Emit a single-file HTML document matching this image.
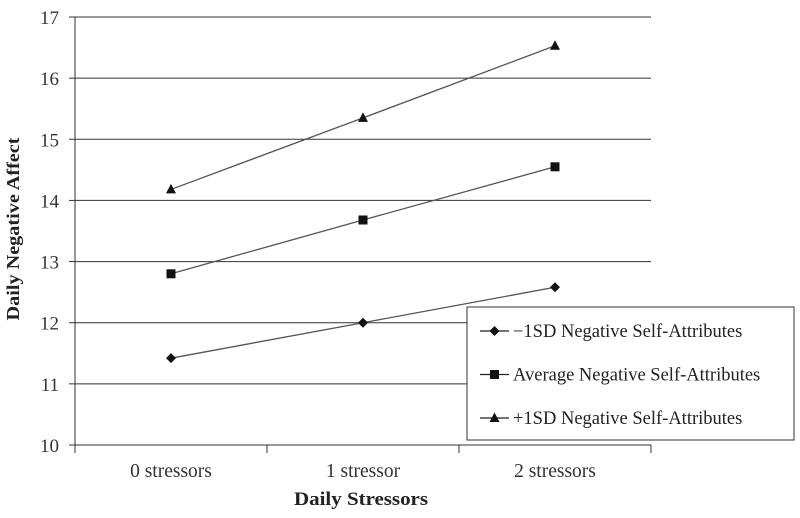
<!DOCTYPE html>
<html><head><meta charset="utf-8"><style>
body{margin:0;background:#fff;}
svg{display:block;font-family:"Liberation Serif",serif;}
</style></head><body>
<svg id="chart" width="800" height="518">
<rect width="800" height="518" fill="#fff"/>
<g id="grid"></g><g id="axes"></g><g id="series"></g>
<text transform="translate(19,229) rotate(-90)" text-anchor="middle" font-size="18" font-weight="bold" fill="#222" textLength="183" lengthAdjust="spacingAndGlyphs">Daily Negative Affect</text>
<text x="361" y="505" text-anchor="middle" font-size="19" font-weight="bold" fill="#222" textLength="134" lengthAdjust="spacingAndGlyphs">Daily Stressors</text>
<g>
<rect x="467" y="307" width="327" height="133" fill="#fff" stroke="#333" stroke-width="1"/>
<g id="legend"></g>
</g>
</svg>
<script>
const categories=["0 stressors","1 stressor","2 stressors"];
const yTicks=[10,11,12,13,14,15,16,17];
const seriesNames=["\u22121SD Negative Self-Attributes","Average Negative Self-Attributes","+1SD Negative Self-Attributes"];
const lowValues=[11.42,12.0,12.58];
const avgValues=[12.8,13.68,14.55];
const highValues=[14.18,15.35,16.53];
const markers=["diamond","square","triangle"];
const NS="http://www.w3.org/2000/svg";
const X0=75,X1=651,Y0=445,Y1=17,YMIN=10,YMAX=17;
const bw=(X1-X0)/categories.length;
function xs(i){return X0+bw*(i+0.5);}
function ys(v){return Y0-(v-YMIN)/(YMAX-YMIN)*(Y0-Y1);}
function mk(tag,attrs,parent){const e=document.createElementNS(NS,tag);for(const k in attrs)e.setAttribute(k,attrs[k]);parent.appendChild(e);return e;}
const grid=document.getElementById('grid'),axes=document.getElementById('axes'),ser=document.getElementById('series'),leg=document.getElementById('legend');
yTicks.forEach(t=>{
 const y=ys(t);
 if(t>YMIN){const g=mk('line',{x1:X0,x2:X1,y1:y,y2:y,stroke:'#333','stroke-width':1},grid);
 
 }
 const tk=mk('line',{x1:X0-6,x2:X0,y1:y,y2:y,stroke:'#333'},axes);
 
 
 const tx=mk('text',{x:X0-16,y:y+7,'text-anchor':'end','font-size':19,fill:'#333'},axes);
 tx.textContent=t;
 
 
});
const ya=mk('line',{x1:X0,x2:X0,y1:Y1,y2:Y0,stroke:'#333'},axes);


const xa=mk('line',{x1:X0,x2:X1,y1:Y0,y2:Y0,stroke:'#333'},axes);


for(let i=0;i<=categories.length;i++){
 const x=X0+bw*i;
 const tk=mk('line',{x1:x,x2:x,y1:Y0,y2:Y0+8,stroke:'#333'},axes);
 
 
}
categories.forEach((c,i)=>{
 const tx=mk('text',{x:xs(i),y:477,'text-anchor':'middle','font-size':19.5,fill:'#333'},axes);
 tx.textContent=c;
 
 
});
function marker(type,x,y,parent){
 let e;
 if(type==='diamond')e=mk('polygon',{points:`${x},${y-5} ${x+5},${y} ${x},${y+5} ${x-5},${y}`,fill:'#111'},parent);
 else if(type==='square')e=mk('rect',{x:x-4.5,y:y-4.5,width:9,height:9,fill:'#111'},parent);
 else e=mk('polygon',{points:`${x},${y-5.5} ${x+5},${y+4} ${x-5},${y+4}`,fill:'#111'},parent);
 return e;
}
[lowValues,avgValues,highValues].forEach((vals,s)=>{
 const g=mk('g',{},ser);
 
 
 const pl=mk('polyline',{points:vals.map((v,i)=>xs(i)+','+ys(v)).join(' '),fill:'none',stroke:'#555','stroke-width':1.3},g);
 
 
 vals.forEach((v,i)=>{
  const m=marker(markers[s],xs(i),ys(v),g);
  
  
 });
 const ly=331+s*43.5;
 const lg=mk('g',{},leg);
 
 
 mk('line',{x1:480,x2:509,y1:ly,y2:ly,stroke:'#222','stroke-width':1.2},lg);
 marker(markers[s],494.5,ly,lg);
 const t=mk('text',{x:513,y:ly+6,'font-size':18.5,fill:'#222'},lg);
 t.textContent=seriesNames[s];
});
</script>
</body></html>
